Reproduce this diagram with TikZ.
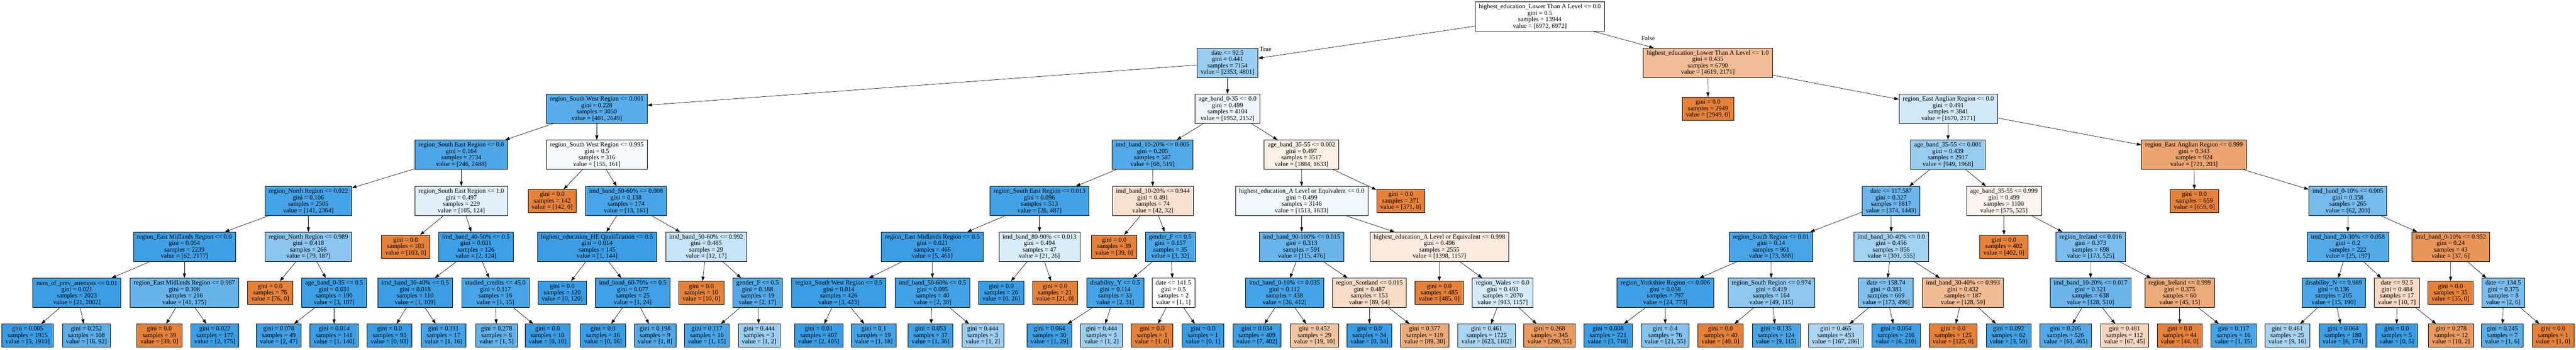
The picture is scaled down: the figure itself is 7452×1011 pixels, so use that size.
\documentclass[tikz,border=0pt]{standalone}
\usepackage{fontspec}
\setmainfont{Liberation Serif}
\usetikzlibrary{arrows.meta}
\definecolor{cblue}{RGB}{57,157,229}
\definecolor{corange}{RGB}{229,129,57}

\begin{document}
\begin{tikzpicture}[x=1pt,y=-1pt,>={Triangle[length=13pt,width=9pt]},
        splitbox/.style={draw,line width=1.2pt,align=center,inner xsep=10.5pt,inner ysep=3pt,minimum height=85pt,font=\fontsize{18.5}{18.6}\selectfont},
        leafbox/.style={splitbox,minimum height=67pt},
        edge/.style={->,line width=1pt}]
        \useasboundingbox (0,0) rectangle (7452,1011);
        % level 0 and 1
        \node[splitbox,fill=white] (n0) at (4454.5,48) {highest\_education\_Lower Than A Level <= 0.0\\gini = 0.5\\samples = 13944\\value = [6972, 6972]};
        \node[splitbox,fill=cblue!51] (n1) at (3551,181.5) {date <= 92.5\\gini = 0.441\\samples = 7154\\value = [2353, 4801]};
        \node[splitbox,fill=corange!53] (n2) at (4940.5,181.5) {highest\_education\_Lower Than A Level <= 1.0\\gini = 0.435\\samples = 6790\\value = [4619, 2171]};
        % level 2
        \node[splitbox,fill=cblue!85] (n3) at (1726.5,314.5) {region\_South West Region <= 0.001\\gini = 0.228\\samples = 3050\\value = [401, 2649]};
        \node[splitbox,fill=cblue!9] (n4) at (3551,314.5) {age\_band\_0-35 <= 0.0\\gini = 0.499\\samples = 4104\\value = [1952, 2152]};
        \node[leafbox,fill=corange] (n5) at (4941,314.5) {gini = 0.0\\samples = 2949\\value = [2949, 0]};
        \node[splitbox,fill=cblue!23] (n6) at (5636,314.5) {region\_East Anglian Region <= 0.0\\gini = 0.491\\samples = 3841\\value = [1670, 2171]};
        % level 3
        \node[splitbox,fill=cblue!90] (n7) at (1334.5,447.5) {region\_South East Region <= 0.0\\gini = 0.164\\samples = 2734\\value = [246, 2488]};
        \node[splitbox,fill=cblue!4] (n8) at (1726.5,447.5) {region\_South West Region <= 0.995\\gini = 0.5\\samples = 316\\value = [155, 161]};
        \node[splitbox,fill=cblue!87] (n9) at (3334,447.5) {imd\_band\_10-20\% <= 0.005\\gini = 0.205\\samples = 587\\value = [68, 519]};
        \node[splitbox,fill=corange!13] (n10) at (3765,447.5) {age\_band\_35-55 <= 0.002\\gini = 0.497\\samples = 3517\\value = [1884, 1633]};
        \node[splitbox,fill=cblue!52] (n11) at (5635,447.5) {age\_band\_35-55 <= 0.001\\gini = 0.439\\samples = 2917\\value = [949, 1968]};
        \node[splitbox,fill=corange!72] (n12) at (6347,447.5) {region\_East Anglian Region <= 0.999\\gini = 0.343\\samples = 924\\value = [721, 203]};
        % level 4
        \node[splitbox,fill=cblue!94] (n13) at (892,581.5) {region\_North Region <= 0.022\\gini = 0.106\\samples = 2505\\value = [141, 2364]};
        \node[splitbox,fill=cblue!15] (n14) at (1334.5,581.5) {region\_South East Region <= 1.0\\gini = 0.497\\samples = 229\\value = [105, 124]};
        \node[leafbox,fill=corange] (n15) at (1597.5,581.5) {gini = 0.0\\samples = 142\\value = [142, 0]};
        \node[splitbox,fill=cblue!92] (n16) at (1811,581.5) {imd\_band\_50-60\% <= 0.008\\gini = 0.138\\samples = 174\\value = [13, 161]};
        \node[splitbox,fill=cblue!95] (n17) at (3007,581.5) {region\_South East Region <= 0.013\\gini = 0.096\\samples = 513\\value = [26, 487]};
        \node[splitbox,fill=corange!24] (n18) at (3335,581.5) {imd\_band\_10-20\% <= 0.944\\gini = 0.491\\samples = 74\\value = [42, 32]};
        \node[splitbox,fill=cblue!7] (n19) at (3765.5,581.5) {highest\_education\_A Level or Equivalent <= 0.0\\gini = 0.499\\samples = 3146\\value = [1513, 1633]};
        \node[leafbox,fill=corange] (n20) at (4052,581.5) {gini = 0.0\\samples = 371\\value = [371, 0]};
        \node[splitbox,fill=cblue!74] (n21) at (5470.5,581.5) {date <= 117.587\\gini = 0.327\\samples = 1817\\value = [374, 1443]};
        \node[splitbox,fill=corange!9] (n22) at (5797,581.5) {age\_band\_35-55 <= 0.999\\gini = 0.499\\samples = 1100\\value = [575, 525]};
        \node[leafbox,fill=corange] (n23) at (6348,581.5) {gini = 0.0\\samples = 659\\value = [659, 0]};
        \node[splitbox,fill=cblue!69] (n24) at (6792,581.5) {imd\_band\_0-10\% <= 0.005\\gini = 0.358\\samples = 265\\value = [62, 203]};
        % level 5
        \node[splitbox,fill=cblue!97] (n25) at (533.5,713.5) {region\_East Midlands Region <= 0.0\\gini = 0.054\\samples = 2239\\value = [62, 2177]};
        \node[splitbox,fill=cblue!58] (n26) at (892,713.5) {region\_North Region <= 0.989\\gini = 0.418\\samples = 266\\value = [79, 187]};
        \node[leafbox,fill=corange] (n27) at (1173.5,713.5) {gini = 0.0\\samples = 103\\value = [103, 0]};
        \node[splitbox,fill=cblue!98] (n28) at (1377,713.5) {imd\_band\_40-50\% <= 0.5\\gini = 0.031\\samples = 126\\value = [2, 124]};
        \node[splitbox,fill=cblue!99] (n29) at (1727,713.5) {highest\_education\_HE Qualification <= 0.5\\gini = 0.014\\samples = 145\\value = [1, 144]};
        \node[splitbox,fill=cblue!29] (n30) at (2043,713.5) {imd\_band\_50-60\% <= 0.992\\gini = 0.485\\samples = 29\\value = [12, 17]};
        \node[splitbox,fill=cblue!99] (n31) at (2697,713.5) {region\_East Midlands Region <= 0.5\\gini = 0.021\\samples = 466\\value = [5, 461]};
        \node[splitbox,fill=cblue!19] (n32) at (3007,713.5) {imd\_band\_80-90\% <= 0.013\\gini = 0.494\\samples = 47\\value = [21, 26]};
        \node[leafbox,fill=corange] (n33) at (3223,713.5) {gini = 0.0\\samples = 39\\value = [39, 0]};
        \node[splitbox,fill=cblue!91] (n34) at (3385.5,713.5) {gender\_F <= 0.5\\gini = 0.157\\samples = 35\\value = [3, 32]};
        \node[splitbox,fill=cblue!76] (n35) at (3765.5,713.5) {imd\_band\_90-100\% <= 0.015\\gini = 0.313\\samples = 591\\value = [115, 476]};
        \node[splitbox,fill=corange!17] (n36) at (4164,713.5) {highest\_education\_A Level or Equivalent <= 0.998\\gini = 0.496\\samples = 2555\\value = [1398, 1157]};
        \node[splitbox,fill=cblue!92] (n37) at (5123.5,713.5) {region\_South Region <= 0.01\\gini = 0.14\\samples = 961\\value = [73, 888]};
        \node[splitbox,fill=cblue!46] (n38) at (5471,713.5) {imd\_band\_30-40\% <= 0.0\\gini = 0.456\\samples = 856\\value = [301, 555]};
        \node[leafbox,fill=corange] (n39) at (5797,713.5) {gini = 0.0\\samples = 402\\value = [402, 0]};
        \node[splitbox,fill=cblue!67] (n40) at (6048,713.5) {region\_Ireland <= 0.016\\gini = 0.373\\samples = 698\\value = [173, 525]};
        \node[splitbox,fill=cblue!87] (n41) at (6792,713.5) {imd\_band\_20-30\% <= 0.058\\gini = 0.2\\samples = 222\\value = [25, 197]};
        \node[splitbox,fill=corange!84] (n42) at (7089.5,713.5) {imd\_band\_0-10\% <= 0.952\\gini = 0.24\\samples = 43\\value = [37, 6]};
        % level 6
        \node[splitbox,fill=cblue!99] (n43) at (222.5,847) {num\_of\_prev\_attempts <= 0.01\\gini = 0.021\\samples = 2023\\value = [21, 2002]};
        \node[splitbox,fill=cblue!77] (n44) at (533.5,847) {region\_East Midlands Region <= 0.987\\gini = 0.308\\samples = 216\\value = [41, 175]};
        \node[leafbox,fill=corange] (n45) at (781.5,847) {gini = 0.0\\samples = 76\\value = [76, 0]};
        \node[splitbox,fill=cblue!98] (n46) at (966.5,847) {age\_band\_0-35 <= 0.5\\gini = 0.031\\samples = 190\\value = [3, 187]};
        \node[splitbox,fill=cblue!99] (n47) at (1201,847) {imd\_band\_30-40\% <= 0.5\\gini = 0.018\\samples = 110\\value = [1, 109]};
        \node[splitbox,fill=cblue!93] (n48) at (1433,847) {studied\_credits <= 45.0\\gini = 0.117\\samples = 16\\value = [1, 15]};
        \node[leafbox,fill=cblue] (n49) at (1626.5,847) {gini = 0.0\\samples = 120\\value = [0, 120]};
        \node[splitbox,fill=cblue!96] (n50) at (1830.5,847) {imd\_band\_60-70\% <= 0.5\\gini = 0.077\\samples = 25\\value = [1, 24]};
        \node[leafbox,fill=corange] (n51) at (2029,847) {gini = 0.0\\samples = 10\\value = [10, 0]};
        \node[splitbox,fill=cblue!88] (n52) at (2191.5,847) {gender\_F <= 0.5\\gini = 0.188\\samples = 19\\value = [2, 17]};
        \node[splitbox,fill=cblue!99] (n53) at (2426.5,847) {region\_South West Region <= 0.5\\gini = 0.014\\samples = 426\\value = [3, 423]};
        \node[splitbox,fill=cblue!95] (n54) at (2697.5,847) {imd\_band\_50-60\% <= 0.5\\gini = 0.095\\samples = 40\\value = [2, 38]};
        \node[leafbox,fill=cblue] (n55) at (2896.5,847) {gini = 0.0\\samples = 26\\value = [0, 26]};
        \node[leafbox,fill=corange] (n56) at (3052,847) {gini = 0.0\\samples = 21\\value = [21, 0]};
        \node[splitbox,fill=cblue!94] (n57) at (3226,847) {disability\_Y <= 0.5\\gini = 0.114\\samples = 33\\value = [2, 31]};
        \node[splitbox,fill=white] (n58) at (3394.5,847) {date <= 141.5\\gini = 0.5\\samples = 2\\value = [1, 1]};
        \node[splitbox,fill=cblue!94] (n59) at (3716,847) {imd\_band\_0-10\% <= 0.035\\gini = 0.112\\samples = 438\\value = [26, 412]};
        \node[splitbox,fill=corange!28] (n60) at (3961.5,847) {region\_Scotland <= 0.015\\gini = 0.487\\samples = 153\\value = [89, 64]};
        \node[leafbox,fill=corange] (n61) at (4163.5,847) {gini = 0.0\\samples = 485\\value = [485, 0]};
        \node[splitbox,fill=cblue!21] (n62) at (4347,847) {region\_Wales <= 0.0\\gini = 0.493\\samples = 2070\\value = [913, 1157]};
        \node[splitbox,fill=cblue!97] (n63) at (4817.5,847) {region\_Yorkshire Region <= 0.006\\gini = 0.058\\samples = 797\\value = [24, 773]};
        \node[splitbox,fill=cblue!57] (n64) at (5124,847) {region\_South Region <= 0.974\\gini = 0.419\\samples = 164\\value = [49, 115]};
        \node[splitbox,fill=cblue!65] (n65) at (5456,847) {date <= 158.74\\gini = 0.383\\samples = 669\\value = [173, 496]};
        \node[splitbox,fill=corange!54] (n66) at (5678.5,847) {imd\_band\_30-40\% <= 0.993\\gini = 0.432\\samples = 187\\value = [128, 59]};
        \node[splitbox,fill=cblue!75] (n67) at (6047.5,847) {imd\_band\_10-20\% <= 0.017\\gini = 0.321\\samples = 638\\value = [128, 510]};
        \node[splitbox,fill=corange!67] (n68) at (6305.5,847) {region\_Ireland <= 0.999\\gini = 0.375\\samples = 60\\value = [45, 15]};
        \node[splitbox,fill=cblue!92] (n69) at (6751,847) {disability\_N <= 0.989\\gini = 0.136\\samples = 205\\value = [15, 190]};
        \node[splitbox,fill=corange!30] (n70) at (6934,847) {date <= 92.5\\gini = 0.484\\samples = 17\\value = [10, 7]};
        \node[leafbox,fill=corange] (n71) at (7089,847) {gini = 0.0\\samples = 35\\value = [35, 0]};
        \node[splitbox,fill=cblue!67] (n72) at (7241.5,847) {date <= 134.5\\gini = 0.375\\samples = 8\\value = [2, 6]};
        % level 7
        \node[leafbox,fill=cblue] (n73) at (80,970.5) {gini = 0.005\\samples = 1915\\value = [5, 1910]};
        \node[leafbox,fill=cblue!83] (n74) at (250,970.5) {gini = 0.252\\samples = 108\\value = [16, 92]};
        \node[leafbox,fill=corange] (n75) at (461,970.5) {gini = 0.0\\samples = 39\\value = [39, 0]};
        \node[leafbox,fill=cblue!99] (n76) at (621.5,970.5) {gini = 0.022\\samples = 177\\value = [2, 175]};
        \node[leafbox,fill=cblue!96] (n77) at (806.5,970.5) {gini = 0.078\\samples = 49\\value = [2, 47]};
        \node[leafbox,fill=cblue!99] (n78) at (966.5,970.5) {gini = 0.014\\samples = 141\\value = [1, 140]};
        \node[leafbox,fill=cblue] (n79) at (1127,970.5) {gini = 0.0\\samples = 93\\value = [0, 93]};
        \node[leafbox,fill=cblue!94] (n80) at (1283,970.5) {gini = 0.111\\samples = 17\\value = [1, 16]};
        \node[leafbox,fill=cblue!80] (n81) at (1436.5,970.5) {gini = 0.278\\samples = 6\\value = [1, 5]};
        \node[leafbox,fill=cblue] (n82) at (1584,970.5) {gini = 0.0\\samples = 10\\value = [0, 10]};
        \node[leafbox,fill=cblue] (n83) at (1744.5,970.5) {gini = 0.0\\samples = 16\\value = [0, 16]};
        \node[leafbox,fill=cblue!88] (n84) at (1895,970.5) {gini = 0.198\\samples = 9\\value = [1, 8]};
        \node[leafbox,fill=cblue!93] (n85) at (2045,970.5) {gini = 0.117\\samples = 16\\value = [1, 15]};
        \node[leafbox,fill=cblue!50] (n86) at (2196,970.5) {gini = 0.444\\samples = 3\\value = [1, 2]};
        \node[leafbox,fill=cblue] (n87) at (2368.5,970.5) {gini = 0.01\\samples = 407\\value = [2, 405]};
        \node[leafbox,fill=cblue!94] (n88) at (2528,970.5) {gini = 0.1\\samples = 19\\value = [1, 18]};
        \node[leafbox,fill=cblue!97] (n89) at (2692,970.5) {gini = 0.053\\samples = 37\\value = [1, 36]};
        \node[leafbox,fill=cblue!50] (n90) at (2843,970.5) {gini = 0.444\\samples = 3\\value = [1, 2]};
        \node[leafbox,fill=cblue!97] (n91) at (3036,970.5) {gini = 0.064\\samples = 30\\value = [1, 29]};
        \node[leafbox,fill=cblue!50] (n92) at (3186.5,970.5) {gini = 0.444\\samples = 3\\value = [1, 2]};
        \node[leafbox,fill=corange] (n93) at (3333,970.5) {gini = 0.0\\samples = 1\\value = [1, 0]};
        \node[leafbox,fill=cblue] (n94) at (3480,970.5) {gini = 0.0\\samples = 1\\value = [0, 1]};
        \node[leafbox,fill=cblue!98] (n95) at (3636,970.5) {gini = 0.034\\samples = 409\\value = [7, 402]};
        \node[leafbox,fill=corange!47] (n96) at (3802.5,970.5) {gini = 0.452\\samples = 29\\value = [19, 10]};
        \node[leafbox,fill=cblue] (n97) at (3961.5,970.5) {gini = 0.0\\samples = 34\\value = [0, 34]};
        \node[leafbox,fill=corange!66] (n98) at (4121.5,970.5) {gini = 0.377\\samples = 119\\value = [89, 30]};
        \node[leafbox,fill=cblue!43] (n99) at (4300.5,970.5) {gini = 0.461\\samples = 1725\\value = [623, 1102]};
        \node[leafbox,fill=corange!81] (n100) at (4482.5,970.5) {gini = 0.268\\samples = 345\\value = [290, 55]};
        \node[leafbox,fill=cblue] (n101) at (4652,970.5) {gini = 0.008\\samples = 721\\value = [3, 718]};
        \node[leafbox,fill=cblue!62] (n102) at (4817,970.5) {gini = 0.4\\samples = 76\\value = [21, 55]};
        \node[leafbox,fill=corange] (n103) at (4977,970.5) {gini = 0.0\\samples = 40\\value = [40, 0]};
        \node[leafbox,fill=cblue!92] (n104) at (5138,970.5) {gini = 0.135\\samples = 124\\value = [9, 115]};
        \node[leafbox,fill=cblue!42] (n105) at (5310.5,970.5) {gini = 0.465\\samples = 453\\value = [167, 286]};
        \node[leafbox,fill=cblue!97] (n106) at (5485,970.5) {gini = 0.054\\samples = 216\\value = [6, 210]};
        \node[leafbox,fill=corange] (n107) at (5650,970.5) {gini = 0.0\\samples = 125\\value = [125, 0]};
        \node[leafbox,fill=cblue!95] (n108) at (5810.5,970.5) {gini = 0.092\\samples = 62\\value = [3, 59]};
        \node[leafbox,fill=cblue!87] (n109) at (5975.5,970.5) {gini = 0.205\\samples = 526\\value = [61, 465]};
        \node[leafbox,fill=corange!33] (n110) at (6146,970.5) {gini = 0.481\\samples = 112\\value = [67, 45]};
        \node[leafbox,fill=corange] (n111) at (6305.5,970.5) {gini = 0.0\\samples = 44\\value = [44, 0]};
        \node[leafbox,fill=cblue!93] (n112) at (6461.5,970.5) {gini = 0.117\\samples = 16\\value = [1, 15]};
        \node[leafbox,fill=cblue!44] (n113) at (6617,970.5) {gini = 0.461\\samples = 25\\value = [9, 16]};
        \node[leafbox,fill=cblue!97] (n114) at (6778,970.5) {gini = 0.064\\samples = 180\\value = [6, 174]};
        \node[leafbox,fill=cblue] (n115) at (6933,970.5) {gini = 0.0\\samples = 5\\value = [0, 5]};
        \node[leafbox,fill=corange!80] (n116) at (7090.5,970.5) {gini = 0.278\\samples = 12\\value = [10, 2]};
        \node[leafbox,fill=cblue!83] (n117) at (7239,970.5) {gini = 0.245\\samples = 7\\value = [1, 6]};
        \node[leafbox,fill=corange] (n118) at (7385.5,970.5) {gini = 0.0\\samples = 1\\value = [1, 0]};
        % branch labels
        \node[font=\fontsize{18.5}{18.6}\selectfont,inner sep=0pt] (ltrue) at (3661,142) {True};
        \node[font=\fontsize{18.5}{18.6}\selectfont,inner sep=0pt] (lfalse) at (4768,110) {False};
        % edges
        \draw[edge] (n0) -- (n1); \draw[edge] (n0) -- (n2);
        \draw[edge] (n1) -- (n3); \draw[edge] (n1) -- (n4);
        \draw[edge] (n2) -- (n5); \draw[edge] (n2) -- (n6);
        \draw[edge] (n3) -- (n7); \draw[edge] (n3) -- (n8);
        \draw[edge] (n4) -- (n9); \draw[edge] (n4) -- (n10);
        \draw[edge] (n6) -- (n11); \draw[edge] (n6) -- (n12);
        \draw[edge] (n7) -- (n13); \draw[edge] (n7) -- (n14);
        \draw[edge] (n8) -- (n15); \draw[edge] (n8) -- (n16);
        \draw[edge] (n9) -- (n17); \draw[edge] (n9) -- (n18);
        \draw[edge] (n10) -- (n19); \draw[edge] (n10) -- (n20);
        \draw[edge] (n11) -- (n21); \draw[edge] (n11) -- (n22);
        \draw[edge] (n12) -- (n23); \draw[edge] (n12) -- (n24);
        \draw[edge] (n13) -- (n25); \draw[edge] (n13) -- (n26);
        \draw[edge] (n14) -- (n27); \draw[edge] (n14) -- (n28);
        \draw[edge] (n16) -- (n29); \draw[edge] (n16) -- (n30);
        \draw[edge] (n17) -- (n31); \draw[edge] (n17) -- (n32);
        \draw[edge] (n18) -- (n33); \draw[edge] (n18) -- (n34);
        \draw[edge] (n19) -- (n35); \draw[edge] (n19) -- (n36);
        \draw[edge] (n21) -- (n37); \draw[edge] (n21) -- (n38);
        \draw[edge] (n22) -- (n39); \draw[edge] (n22) -- (n40);
        \draw[edge] (n24) -- (n41); \draw[edge] (n24) -- (n42);
        \draw[edge] (n25) -- (n43); \draw[edge] (n25) -- (n44);
        \draw[edge] (n26) -- (n45); \draw[edge] (n26) -- (n46);
        \draw[edge] (n28) -- (n47); \draw[edge] (n28) -- (n48);
        \draw[edge] (n29) -- (n49); \draw[edge] (n29) -- (n50);
        \draw[edge] (n30) -- (n51); \draw[edge] (n30) -- (n52);
        \draw[edge] (n31) -- (n53); \draw[edge] (n31) -- (n54);
        \draw[edge] (n32) -- (n55); \draw[edge] (n32) -- (n56);
        \draw[edge] (n34) -- (n57); \draw[edge] (n34) -- (n58);
        \draw[edge] (n35) -- (n59); \draw[edge] (n35) -- (n60);
        \draw[edge] (n36) -- (n61); \draw[edge] (n36) -- (n62);
        \draw[edge] (n37) -- (n63); \draw[edge] (n37) -- (n64);
        \draw[edge] (n38) -- (n65); \draw[edge] (n38) -- (n66);
        \draw[edge] (n40) -- (n67); \draw[edge] (n40) -- (n68);
        \draw[edge] (n41) -- (n69); \draw[edge] (n41) -- (n70);
        \draw[edge] (n42) -- (n71); \draw[edge] (n42) -- (n72);
        \draw[edge] (n43) -- (n73); \draw[edge] (n43) -- (n74);
        \draw[edge] (n44) -- (n75); \draw[edge] (n44) -- (n76);
        \draw[edge] (n46) -- (n77); \draw[edge] (n46) -- (n78);
        \draw[edge] (n47) -- (n79); \draw[edge] (n47) -- (n80);
        \draw[edge] (n48) -- (n81); \draw[edge] (n48) -- (n82);
        \draw[edge] (n50) -- (n83); \draw[edge] (n50) -- (n84);
        \draw[edge] (n52) -- (n85); \draw[edge] (n52) -- (n86);
        \draw[edge] (n53) -- (n87); \draw[edge] (n53) -- (n88);
        \draw[edge] (n54) -- (n89); \draw[edge] (n54) -- (n90);
        \draw[edge] (n57) -- (n91); \draw[edge] (n57) -- (n92);
        \draw[edge] (n58) -- (n93); \draw[edge] (n58) -- (n94);
        \draw[edge] (n59) -- (n95); \draw[edge] (n59) -- (n96);
        \draw[edge] (n60) -- (n97); \draw[edge] (n60) -- (n98);
        \draw[edge] (n62) -- (n99); \draw[edge] (n62) -- (n100);
        \draw[edge] (n63) -- (n101); \draw[edge] (n63) -- (n102);
        \draw[edge] (n64) -- (n103); \draw[edge] (n64) -- (n104);
        \draw[edge] (n65) -- (n105); \draw[edge] (n65) -- (n106);
        \draw[edge] (n66) -- (n107); \draw[edge] (n66) -- (n108);
        \draw[edge] (n67) -- (n109); \draw[edge] (n67) -- (n110);
        \draw[edge] (n68) -- (n111); \draw[edge] (n68) -- (n112);
        \draw[edge] (n69) -- (n113); \draw[edge] (n69) -- (n114);
        \draw[edge] (n70) -- (n115); \draw[edge] (n70) -- (n116);
        \draw[edge] (n72) -- (n117); \draw[edge] (n72) -- (n118);
\end{tikzpicture}
\end{document}
